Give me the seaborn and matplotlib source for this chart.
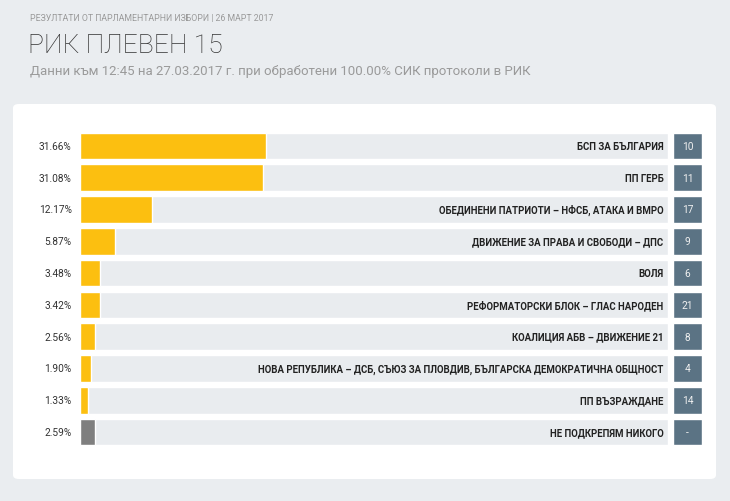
import seaborn as sns
import matplotlib.pyplot as plt
import pandas as pd
from matplotlib.patches import FancyBboxPatch

parties = [
    'БСП ЗА БЪЛГАРИЯ',
    'ПП ГЕРБ',
    'ОБЕДИНЕНИ ПАТРИОТИ – НФСБ, АТАКА И ВМРО',
    'ДВИЖЕНИЕ ЗА ПРАВА И СВОБОДИ – ДПС',
    'ВОЛЯ',
    'РЕФОРМАТОРСКИ БЛОК – ГЛАС НАРОДЕН',
    'КОАЛИЦИЯ АБВ – ДВИЖЕНИЕ 21',
    'НОВА РЕПУБЛИКА – ДСБ, СЪЮЗ ЗА ПЛОВДИВ, БЪЛГАРСКА ДЕМОКРАТИЧНА ОБЩНОСТ',
    'ПП ВЪЗРАЖДАНЕ',
    'НЕ ПОДКРЕПЯМ НИКОГО',
]
percents = [31.66, 31.08, 12.17, 5.87, 3.48, 3.42, 2.56, 1.90, 1.33, 2.59]
ballot_numbers = ['10', '11', '17', '9', '6', '21', '8', '4', '14', '-']

df = pd.DataFrame({'party': parties, 'pct': percents, 'num': ballot_numbers})
df['track'] = 100
df['kind'] = ['party'] * 9 + ['none']

bg = '#eaedf0'
track_col = '#e9ecef'
yellow = '#fcbf10'
grey_bar = '#7f7f7f'
box_col = '#5b7384'

sns.set_theme(style='white')
plt.rcParams['font.family'] = ['Roboto', 'DejaVu Sans']

fig = plt.figure(figsize=(7.3, 5.02), dpi=100)
fig.patch.set_facecolor(bg)
W, H = 730, 502

# white panel behind the chart
panel = FancyBboxPatch((13 / W, (H - 480) / H), (716 - 13) / W, (480 - 105) / H,
                       boxstyle='round,pad=0,rounding_size=0.008',
                       transform=fig.transFigure, facecolor='white',
                       edgecolor='none', zorder=-5)
fig.patches.append(panel)

# header texts
fig.text(30 / W, 1 - 18 / H, 'РЕЗУЛТАТИ ОТ ПАРЛАМЕНТАРНИ ИЗБОРИ | 26 МАРТ 2017',
         fontsize=6.3, color='#9a9a9a', va='center', ha='left')
fig.text(28 / W, 1 - 46 / H, 'РИК ПЛЕВЕН 15', fontsize=19, color='#333333',
         va='center', ha='left', fontweight='light')
fig.text(30 / W, 1 - 72 / H,
         'Данни към 12:45 на 27.03.2017 г. при обработени 100.00% СИК протоколи в РИК',
         fontsize=9.5, color='#9a9a9a', va='center', ha='left')

# bars
top, bottom = 131, 449
ax = fig.add_axes([80 / W, (H - bottom) / H, (668 - 80) / W, (bottom - top) / H])
ax.set_facecolor('none')
sns.barplot(data=df, x='track', y='party', color=track_col, width=0.84,
            ax=ax, saturation=1)
sns.barplot(data=df, x='pct', y='party', hue='kind',
            palette={'party': yellow, 'none': grey_bar}, width=0.84,
            ax=ax, saturation=1, legend=False, dodge=False)
ax.set_xlim(0, 100)
ax.set_xlabel('')
ax.set_ylabel('')
ax.set_xticks([])
ax.set_yticks([])
for s in ax.spines.values():
    s.set_visible(False)

for i, row in df.iterrows():
    ax.text(-1.4, i, f"{row['pct']:.2f}%", ha='right', va='center',
            fontsize=7.3, color='#333333')
    ax.text(99.2, i, row['party'], ha='right', va='center', fontsize=6.9,
            color='#222222', fontweight='bold')

# ballot number boxes
ax2 = fig.add_axes([673 / W, (H - bottom) / H, (702 - 673) / W, (bottom - top) / H])
ax2.set_facecolor('none')
df['box'] = 1
sns.barplot(data=df, x='box', y='party', color=box_col, width=0.84,
            ax=ax2, saturation=1)
ax2.set_xlim(0, 1)
ax2.set_xlabel('')
ax2.set_ylabel('')
ax2.set_xticks([])
ax2.set_yticks([])
for s in ax2.spines.values():
    s.set_visible(False)
for i, row in df.iterrows():
    ax2.text(0.5, i, row['num'], ha='center', va='center', fontsize=7.3,
             color='#f0f0f0')

fig.savefig('out.png', dpi=100, facecolor=bg)
